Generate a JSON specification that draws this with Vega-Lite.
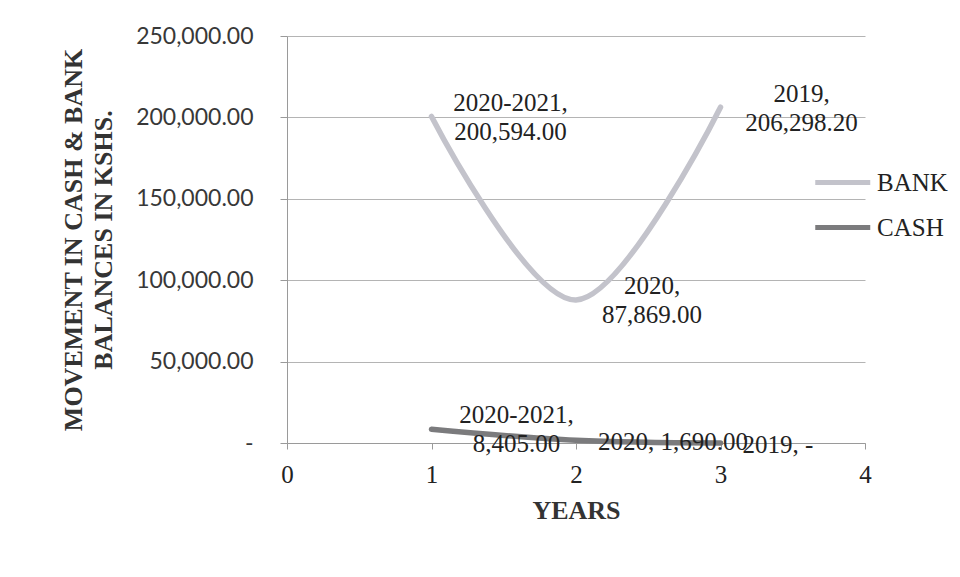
{
  "$schema": "https://vega.github.io/schema/vega-lite/v6.json",
  "width": 578,
  "height": 407,
  "autosize": {"type": "none"},
  "padding": {"left": 287, "top": 36, "right": 95, "bottom": 134},
  "background": "white",
  "config": {
    "view": {"stroke": null},
    "axis": {"gridColor": "#b4b4b4", "gridWidth": 1, "domainColor": "#9a9a9a", "tickColor": "#9a9a9a", "labelFlush": false}
  },
  "data": {
    "values": [
      {"account": "BANK", "year_no": 1, "amount": 200594.0, "label": "2020-2021,\n200,594.00"},
      {"account": "BANK", "year_no": 2, "amount": 87869.0, "label": "2020,\n87,869.00"},
      {"account": "BANK", "year_no": 3, "amount": 206298.2, "label": "2019,\n206,298.20"},
      {"account": "CASH", "year_no": 1, "amount": 8405.0, "label": "2020-2021,\n8,405.00"},
      {"account": "CASH", "year_no": 2, "amount": 1690.0, "label": "2020, 1,690.00"},
      {"account": "CASH", "year_no": 3, "amount": 0, "label": "2019, -"}
    ]
  },
  "encoding": {
    "x": {
      "field": "year_no",
      "type": "quantitative",
      "scale": {"domain": [0, 4], "nice": false, "zero": false},
      "axis": {
        "title": "YEARS",
        "values": [0, 1, 2, 3, 4],
        "format": "d",
        "grid": false,
        "tickSize": 6,
        "labelFont": "Liberation Serif",
        "labelFontSize": 25,
        "labelColor": "#222222",
        "labelPadding": 13,
        "titleFont": "Liberation Serif",
        "titleFontSize": 26,
        "titleFontWeight": "bold",
        "titleColor": "#333333",
        "titlePadding": 10
      }
    },
    "y": {
      "field": "amount",
      "type": "quantitative",
      "scale": {"domain": [0, 250000], "nice": false},
      "axis": {
        "title": ["MOVEMENT IN CASH & BANK", "BALANCES IN KSHS."],
        "values": [0, 50000, 100000, 150000, 200000, 250000],
        "labelExpr": "datum.value == 0 ? '-\u00a0\u00a0\u00a0' : format(datum.value, ',.2f')",
        "grid": true,
        "tickSize": 7,
        "labelFont": "Lato",
        "labelFontSize": 23,
        "labelColor": "#383838",
        "labelPadding": 27,
        "titleFont": "Liberation Serif",
        "titleFontSize": 26,
        "titleFontWeight": "bold",
        "titleColor": "#333333",
        "titleLineHeight": 30,
        "titlePadding": 19
      }
    }
  },
  "layer": [
    {
      "mark": {"type": "line", "interpolate": "cardinal", "strokeWidth": 5.5, "strokeCap": "round"},
      "encoding": {
        "color": {
          "field": "account",
          "type": "nominal",
          "scale": {"domain": ["BANK", "CASH"], "range": ["#c3c3cb", "#7b7b7d"]},
          "legend": {
            "title": null,
            "orient": "none",
            "legendX": 553,
            "legendY": 130,
            "symbolType": "M-3,0H1",
            "symbolSize": 756,
            "symbolStrokeWidth": 5,
            "symbolFillColor": "transparent",
            "labelFont": "Liberation Serif",
            "labelFontSize": 25,
            "labelColor": "#222222",
            "labelOffset": 4,
            "rowPadding": 15
          }
        }
      }
    },
    {
      "transform": [{"filter": "datum.account == 'BANK' && datum.year_no == 1"}],
      "mark": {"type": "text", "font": "Liberation Serif", "fontSize": 25, "color": "#222222", "lineBreak": "\n", "lineHeight": 29, "align": "center", "baseline": "middle", "dx": 79, "dy": -13},
      "encoding": {"text": {"field": "label"}}
    },
    {
      "transform": [{"filter": "datum.account == 'BANK' && datum.year_no == 2"}],
      "mark": {"type": "text", "font": "Liberation Serif", "fontSize": 25, "color": "#222222", "lineBreak": "\n", "lineHeight": 29, "align": "center", "baseline": "middle", "dx": 76, "dy": -14},
      "encoding": {"text": {"field": "label"}}
    },
    {
      "transform": [{"filter": "datum.account == 'BANK' && datum.year_no == 3"}],
      "mark": {"type": "text", "font": "Liberation Serif", "fontSize": 25, "color": "#222222", "lineBreak": "\n", "lineHeight": 29, "align": "center", "baseline": "middle", "dx": 81, "dy": -13},
      "encoding": {"text": {"field": "label"}}
    },
    {
      "transform": [{"filter": "datum.account == 'CASH' && datum.year_no == 1"}],
      "mark": {"type": "text", "font": "Liberation Serif", "fontSize": 25, "color": "#222222", "lineBreak": "\n", "lineHeight": 29, "align": "center", "baseline": "middle", "dx": 85, "dy": -14},
      "encoding": {"text": {"field": "label"}}
    },
    {
      "transform": [{"filter": "datum.account == 'CASH' && datum.year_no > 1"}],
      "mark": {"type": "text", "font": "Liberation Serif", "fontSize": 25, "color": "#222222", "align": "left", "baseline": "middle", "dx": 22, "dy": 2},
      "encoding": {"text": {"field": "label"}}
    }
  ]
}
